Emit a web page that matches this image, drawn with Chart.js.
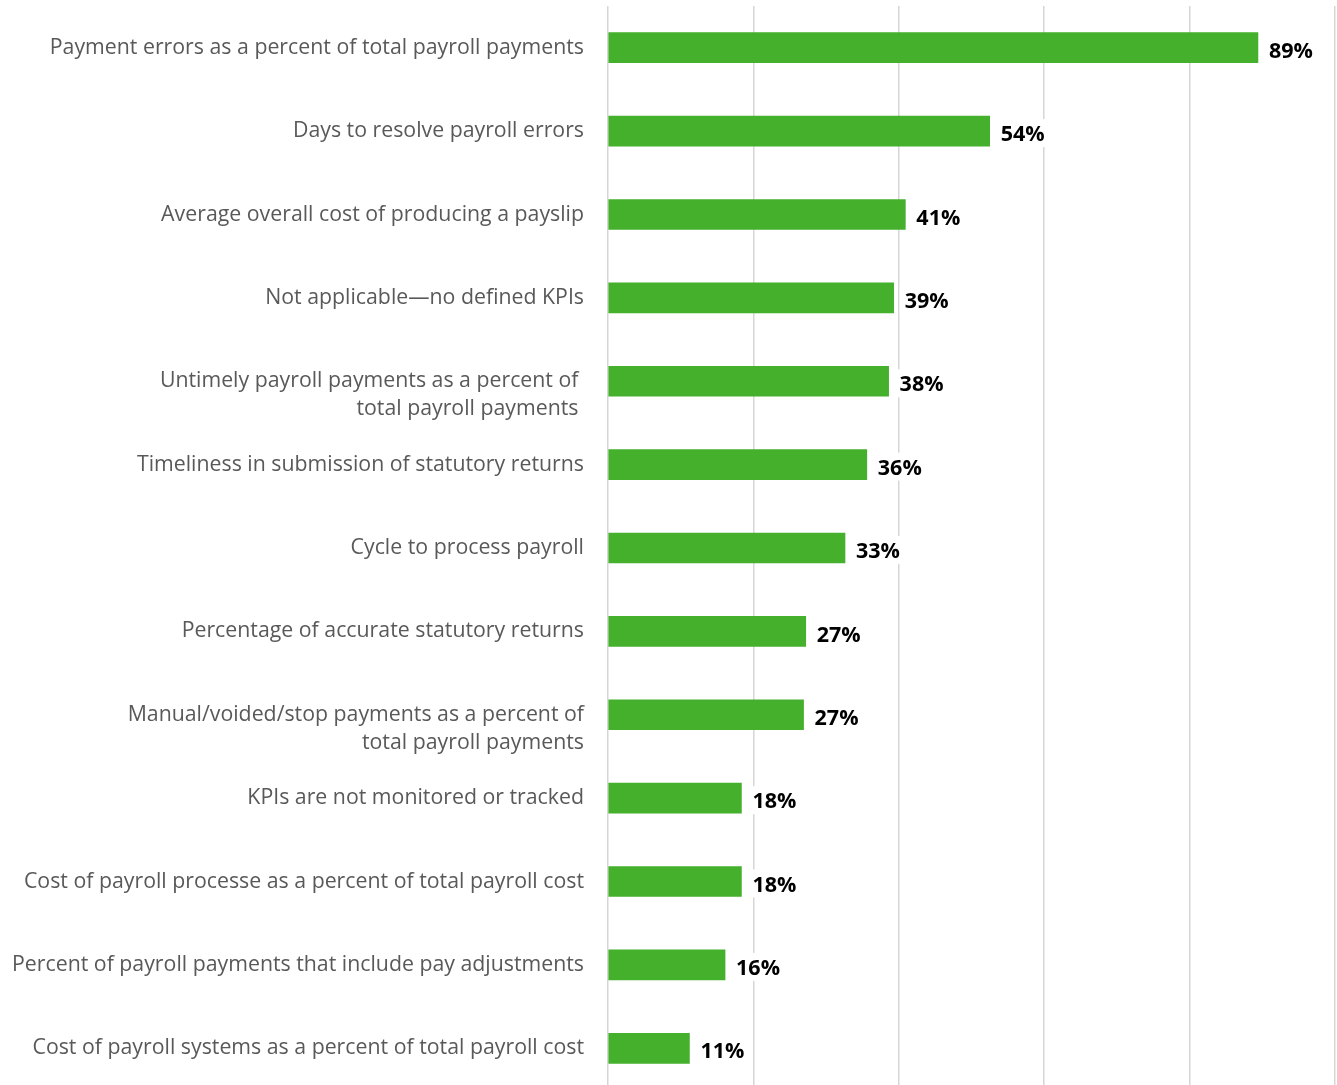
<!DOCTYPE html>
<html>
<head>
<meta charset="utf-8">
<script src="https://cdn.jsdelivr.net/npm/chart.js@4"></script>
<style>
  html, body { margin: 0; padding: 0; background: #fff; overflow: hidden; }
  #wrap { width: 1337px; height: 1090px; }
</style>
</head>
<body>
<div id="wrap"><canvas id="kpiChart"></canvas></div>
<script>
// category labels (multi-line ones get a leading blank line so the first line sits on the bar)
const categories = [
    'Payment errors as a percent of total payroll payments',
    'Days to resolve payroll errors',
    'Average overall cost of producing a payslip',
    'Not applicable\u2014no defined KPIs',
    ['', 'Untimely payroll payments as a percent of ', 'total payroll payments '],
    'Timeliness in submission of statutory returns',
    'Cycle to process payroll',
    'Percentage of accurate statutory returns',
    ['', 'Manual/voided/stop payments as a percent of', 'total payroll payments'],
    'KPIs are not monitored or tracked',
    'Cost of payroll processe as a percent of total payroll cost',
    'Percent of payroll payments that include pay adjustments',
    'Cost of payroll systems as a percent of total payroll cost'
];

// bar lengths as drawn in the picture
const barValues = [89.4, 52.5, 40.9, 39.3, 38.6, 35.6, 32.6, 27.2, 26.9, 18.35, 18.35, 16.1, 11.2];

// printed value labels
const valueLabels = ['89%', '54%', '41%', '39%', '38%', '36%', '33%', '27%', '27%', '18%', '18%', '16%', '11%'];

const xTicks = [0, 20, 40, 60, 80, 100];

// draws the bold value label next to each bar, on a white box
const valueLabelPlugin = {
    id: 'valueLabels',
    afterDatasetsDraw(chart) {
        const ctx = chart.ctx;
        const meta = chart.getDatasetMeta(0);
        ctx.save();
        ctx.font = 'bold 21.5px "Open Sans"';
        ctx.textBaseline = 'middle';
        ctx.textAlign = 'left';
        meta.data.forEach((bar, i) => {
            const text = valueLabels[i];
            const w = ctx.measureText(text).width;
            const x = bar.x + 11;
            ctx.fillStyle = '#fff';
            ctx.fillRect(x - 5, bar.y - 12, w + 10, 28);
            ctx.fillStyle = '#000';
            ctx.fillText(text, x, bar.y + 4);
        });
        ctx.restore();
    }
};

const ctx = document.getElementById('kpiChart').getContext('2d');
const chart = new Chart(ctx, {
    type: 'bar',
    data: {
        labels: categories,
        datasets: [{
            data: barValues,
            backgroundColor: '#44b02c',
            borderWidth: 0,
            barThickness: 30
        }]
    },
    options: {
        indexAxis: 'y',
        responsive: true,
        maintainAspectRatio: false,
        animation: false,
        layout: { padding: { top: 6, right: 2, bottom: 0, left: 0 } },
        plugins: {
            legend: { display: false },
            tooltip: { enabled: false }
        },
        scales: {
            x: {
                min: 0,
                max: 100,
                afterBuildTicks: (scale) => {
                    scale.ticks = xTicks.map(v => ({ value: v }));
                },
                ticks: { display: false },
                grid: { color: '#d6d6d6', lineWidth: 1.5, drawTicks: false },
                border: { display: false }
            },
            y: {
                afterFit: (scale) => {
                    scale.width = 608;
                    scale.paddingTop = 0;
                    scale.paddingBottom = 0;
                },
                ticks: {
                    autoSkip: false,
                    padding: 24,
                    color: '#595959',
                    font: { family: '"Open Sans"', size: 21.3, lineHeight: 1.315 }
                },
                grid: { display: false, drawTicks: false },
                border: { display: false }
            }
        }
    },
    plugins: [valueLabelPlugin]
});
</script>
</body>
</html>
